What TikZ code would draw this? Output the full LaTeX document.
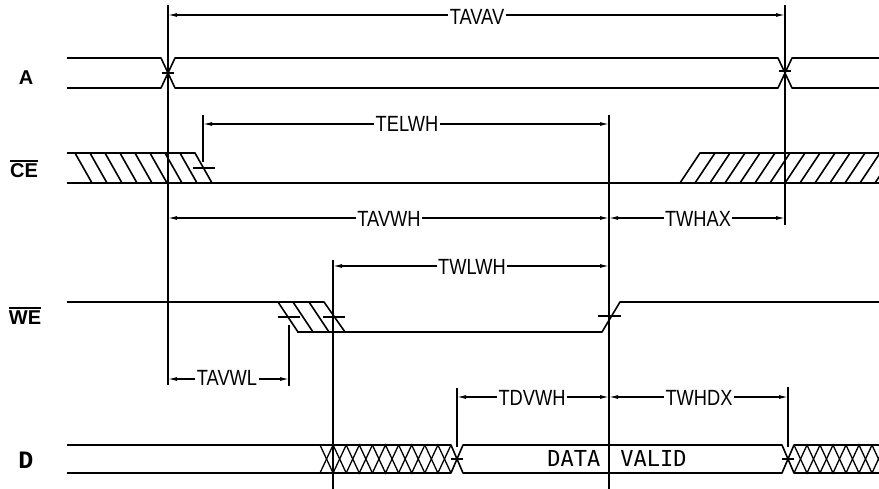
\documentclass[tikz,border=0pt]{standalone}
\usepackage{fontspec}
\usepackage{graphicx}
\setmainfont{Liberation Sans}
\newfontfamily\dvfont{DejaVu Sans Mono}
\newfontfamily\slabfont{Liberation Mono}
\usetikzlibrary{arrows.meta}
\newcommand{\ovl}[1]{\vbox{\hrule height 1.6pt \kern 2.5pt \hbox{#1}}}
\begin{document}
\begin{tikzpicture}[x=1pt,y=-1pt,
  sig/.style={line width=1.6pt, line join=round},
  xx/.style={line width=1.3pt},
  ext/.style={line width=1.2pt},
  tick/.style={line width=1.1pt},
  dim/.style={line width=1.2pt, {Latex[length=9pt,width=4pt]}-{Latex[length=9pt,width=4pt]}},
  lab/.style={fill=white, anchor=base, inner xsep=1.5pt, inner ysep=1pt, font=\fontsize{22}{22}\selectfont},
  sigl/.style={anchor=base, inner sep=0pt, font=\bfseries\fontsize{20}{20}\selectfont}
]
\useasboundingbox (0,0) rectangle (879,489);

% signal names
\node[sigl] (nA) at (26,85) {A};
\node[sigl] (nCE) at (24,178) {\ovl{CE}};
\node[sigl] (nWE) at (25,325) {\ovl{WE}};
\node[anchor=base, inner sep=0pt, font=\slabfont\bfseries\fontsize{25}{25}\selectfont] (nD) at (26,468) {D};

% ---------- A ----------
\draw[sig] (67,58) -- (161,58) -- (175,88) -- (778,88) -- (792,58) -- (879,58);
\draw[sig] (67,88) -- (161,88) -- (175,58) -- (778,58) -- (792,88) -- (879,88);
\draw[tick] (162,73) -- (174,73);
\draw[tick] (779,71) -- (791,71);

% ---------- CE ----------
\draw[sig] (67,153) -- (195,153) -- (212,183);
\draw[sig] (67,183) -- (879,183);
\foreach \x in {75,90,...,180} \draw[sig] (\x,153) -- (\x+17,183);
\draw[tick] (193,168) -- (215,168);
\draw[sig] (680,183) -- (700,153) -- (879,153);
\foreach \x in {715,730,...,895} \draw[sig] (\x-20,183) -- (\x,153);

% ---------- WE ----------
\draw[sig] (67,302) -- (324,302) -- (345,332);
\draw[sig] (297,332) -- (602,332) -- (620,302) -- (879,302);
\foreach \x in {278,293,309} \draw[sig] (\x,302) -- (\x+20,332);
\draw[tick] (278,317) -- (300,317);
\draw[tick] (323,317) -- (345,317);
\draw[tick] (598,316) -- (621,316);

% ---------- D ----------
\draw[sig] (67,445) -- (451,445) -- (463,473) -- (782,473) -- (794,445) -- (879,445);
\draw[sig] (67,473) -- (451,473) -- (463,445) -- (782,445) -- (794,473) -- (879,473);
\foreach \k in {0,...,4} {
  \draw[xx] ({320+26.2*\k},445) -- ({333.1+26.2*\k},473) -- ({346.2+26.2*\k},445);
  \draw[xx] ({320+26.2*\k},473) -- ({333.1+26.2*\k},445) -- ({346.2+26.2*\k},473);
}
\foreach \k in {0,...,3} {
  \draw[xx] ({794+26*\k},445) -- ({807+26*\k},473) -- ({820+26*\k},445);
  \draw[xx] ({794+26*\k},473) -- ({807+26*\k},445) -- ({820+26*\k},473);
}
\draw[tick] (451,459) -- (463,459);
\draw[tick] (782,459) -- (794,459);
\node[anchor=base, inner sep=0pt, font=\dvfont\fontsize{22}{22}\selectfont] (dv) at (617,466) {DATA\hspace{20pt}VALID};

% ---------- extension lines ----------
\coordinate (e1a) at (168,5);   \coordinate (e1b) at (168,385);
\coordinate (e2a) at (203,115); \coordinate (e2b) at (203,162);
\coordinate (e3a) at (785,5);   \coordinate (e3b) at (785,225);
\coordinate (e4a) at (609,115); \coordinate (e4b) at (609,489);
\coordinate (e5a) at (333,260); \coordinate (e5b) at (333,489);
\coordinate (e6a) at (289,325); \coordinate (e6b) at (289,386);
\coordinate (e7a) at (457,388); \coordinate (e7b) at (457,447);
\coordinate (e8a) at (788,387); \coordinate (e8b) at (788,447);
\foreach \i in {1,...,8} \draw[ext] (e\i a) -- (e\i b);

% ---------- dimensions ----------
\coordinate (tavavL) at (168,15);  \coordinate (tavavR) at (785,15);
\coordinate (telwhL) at (203,124); \coordinate (telwhR) at (609,124);
\coordinate (tavwhL) at (168,218); \coordinate (tavwhR) at (609,218);
\coordinate (twhaxL) at (609,218); \coordinate (twhaxR) at (785,218);
\coordinate (twlwhL) at (333,266); \coordinate (twlwhR) at (609,266);
\coordinate (tavwlL) at (168,379); \coordinate (tavwlR) at (289,379);
\coordinate (tdvwhL) at (457,397); \coordinate (tdvwhR) at (609,397);
\coordinate (twhdxL) at (609,397); \coordinate (twhdxR) at (788,397);
\foreach \n in {tavav,telwh,tavwh,twhax,twlwh,tavwl,tdvwh,twhdx}
  \draw[dim] (\n L) -- (\n R);

\node[lab] (lTAVAV) at (477,25)  {\scalebox{0.83}[1]{TAVAV}};
\node[lab] (lTELWH) at (407,132) {\scalebox{0.83}[1]{TELWH}};
\node[lab] (lTAVWH) at (389,227) {\scalebox{0.83}[1]{TAVWH}};
\node[lab] (lTWHAX) at (698,227) {\scalebox{0.83}[1]{TWHAX}};
\node[lab] (lTWLWH) at (472,275) {\scalebox{0.83}[1]{TWLWH}};
\node[lab] (lTAVWL) at (227,385) {\scalebox{0.83}[1]{TAVWL}};
\node[lab] (lTDVWH) at (532,405) {\scalebox{0.83}[1]{TDVWH}};
\node[lab] (lTWHDX) at (699,405) {\scalebox{0.83}[1]{TWHDX}};
\end{tikzpicture}
\end{document}
